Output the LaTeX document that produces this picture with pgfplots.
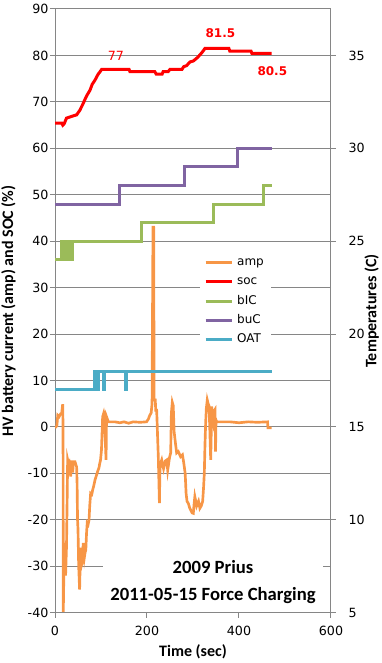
\documentclass[border=0pt]{standalone}
\usepackage{fontspec}
\setmainfont{Carlito}
\newfontfamily\dejavu{DejaVu Sans}
\usepackage{pgfplots}
\pgfplotsset{compat=1.18}
\definecolor{cAmp}{HTML}{F79646}
\definecolor{cSoc}{HTML}{FF0000}
\definecolor{cBIC}{HTML}{9BBB59}
\definecolor{cBUC}{HTML}{8064A2}
\definecolor{cOAT}{HTML}{4BACC6}
\definecolor{cGrid}{HTML}{868686}
\pgfplotsset{
  common/.style={
    at={(41.25bp,37.725bp)}, anchor=south west,
    scale only axis, width=207bp, height=452.775bp,
    xmin=0, xmax=600,
    axis line style={cGrid, line width=0.75bp, -},
    tick style={cGrid, line width=0.75bp},
    tick align=outside, major tick length=3.75bp,
    /pgf/number format/assume math mode=true,
    ticklabel style={font=\dejavu\fontsize{9.5bp}{11bp}\selectfont, text=black},
    label style={font=\bfseries\fontsize{12bp}{14bp}\selectfont},
  }
}
\begin{document}
\begin{tikzpicture}
\useasboundingbox (0,0) rectangle (286.5bp,497.25bp);
\begin{axis}[common,
  ymin=-40, ymax=90,
  xtick={0,200,400,600}, ytick={-40,-30,...,90},
  axis x line*=bottom, axis y line*=left,
  ymajorgrids, grid style={cGrid, line width=0.75bp},
  yticklabel style={inner sep=1bp},
  xticklabel style={yshift=-3bp},
  xlabel={Time (sec)},
  xlabel style={at={(axis description cs:0.5,-0.065)}, anchor=center},
  ylabel={HV battery current (amp) and SOC (\%)},
  ylabel style={at={(axis description cs:-0.169,0.5)}, anchor=center},
]
\addplot[cAmp, line width=2bp] coordinates {
(0,0) (2,0) (4,0.2) (6,2.5) (9,2.2) (12,2.8) (14.5,2.9) (16.7,4.9) (17.5,0) (18,-39.8) (19.5,-30) (20,-25) (22,-30) (23,-32) (25,-25.8) (26.5,-15) (27.5,-7.1) (29,-7.8) (31,-7.5) (33,-8.5) (34,-10.7) (36,-7.2) (38.5,-9.8) (40,-7.5) (43.5,-7.5) (45,-8) (47,-8.6) (48,-12) (49,-20) (50,-22) (51.5,-30) (53.5,-35) (55.5,-26) (57,-30) (58.7,-29.3) (60,-27) (61.6,-25) (64,-28) (65.5,-27) (67,-26.5) (68.5,-23) (70,-20.7) (72,-21) (74,-20) (75.5,-17) (77.5,-14.3) (80,-14.5) (82,-13.5) (84,-12.8) (87,-11.4) (90.5,-10.3) (93,-9.5) (95.6,-8.8) (97,-8) (99,-7.1) (101,-5) (103.6,2.2) (106,3) (108,2) (109,-2) (111,-7.1) (112,2.2) (116,1.1) (130,1.1) (141,0.9) (150,1.1) (160,0.8) (170,1.1) (185,1.0) (199,1.1) (203,1.7) (206,2.5) (209,3) (211,5) (213,43) (214.5,43) (215.5,5.8) (218,5.8) (219,3.6) (221,3.6) (222,1) (223,-2) (224.6,-6.4) (227,-16.4) (228,-10) (229,-8) (232,-7.1) (236,-9) (240,-7.3) (243,-7.1) (245,-9.3) (249,-6.6) (251.5,-5.6) (253,3) (255,5.3) (257,4.6) (259,-1) (261,-2.8) (264.5,-5.6) (268,-5.3) (273,-6.4) (277,-6) (280,-7.8) (283,-10) (285,-14.3) (287,-16) (290,-16.5) (293,-17.5) (295,-17.9) (298,-18.5) (300.7,-18.6) (302,-17) (304,-15) (306,-16) (308,-17) (310,-16.5) (312,-16) (314,-17) (315,-17.5) (318,-17) (321,-16) (323,-13) (324.6,-10) (326,-4) (327.5,0.8) (329,4) (331,5.8) (333,5) (335,4.5) (337,-2) (338.5,-7.1) (339.5,-2) (340.5,4.4) (342,3) (344,1.5) (346,3.5) (348,3.8) (349,-5.3) (350,1.5) (351.5,1.1) (380,1.1) (400,0.9) (420,1.1) (440,1.0) (462,1.1) (463,-0.2) (471,-0.2)
};
\addplot[cSoc, line width=2.25bp] coordinates {
(0,65.4) (15,65.4) (17,65) (20,65.3) (25,66.5) (34,66.8) (40,67) (47,67.2) (54,68.2) (61.5,69.7) (65,70.5) (70,71.5) (76,72.5) (81,73.8) (87,74.7) (94,76) (98,76.5) (101.5,77) (161,77) (163,76.5) (217,76.5) (220,76) (233,76) (235,76.5) (246,76.5) (250,77) (276,77) (280,77.6) (286,77.8) (293.5,78.6) (300.7,78.8) (308,79.4) (315,80.1) (320,80.7) (326,81.5) (378,81.5) (380,80.95) (426,80.95) (428,80.45) (471,80.45)
};
\node[text=cSoc, font=\dejavu\fontsize{9.5bp}{11bp}\selectfont] at (axis cs:132.6,79.9) {77};
\node[text=cSoc, font=\dejavu\bfseries\fontsize{9bp}{11bp}\selectfont] at (axis cs:359.5,84.8) {81.5};
\node[text=cSoc, font=\dejavu\bfseries\fontsize{9bp}{11bp}\selectfont] at (axis cs:472.5,76.6) {80.5};
\fill[white] (axis cs:104,-24.4) rectangle (axis cs:583,-39);
\node[font=\bfseries\fontsize{14bp}{16bp}\selectfont] at (axis cs:343.5,-30.1) {2009 Prius};
\node[font=\bfseries\fontsize{14bp}{16bp}\selectfont] at (axis cs:343.5,-36.2) {2011-05-15 Force Charging};
\end{axis}
\begin{axis}[common,
  ymin=5, ymax=37.5,
  ytick={5,10,...,35},
  axis x line=none, axis y line*=right,
  yticklabel style={xshift=6bp},
  ylabel={Temperatures (C)},
  ylabel style={at={(axis description cs:1.1475,0.5)}, anchor=center},
  legend style={at={(axis description cs:0.525,0.601)}, anchor=north west, draw=none, fill=white,
    font=\dejavu\fontsize{9bp}{10bp}\selectfont, row sep=0pt,
    nodes={text height=7bp, text depth=2.5bp, inner sep=2.5bp}},
  legend cell align=left,
  legend image code/.code={\draw[#1] (0bp,0bp) -- (20bp,0bp);},
]
\addlegendimage{cAmp, line width=2.25bp}\addlegendentry{amp}
\addlegendimage{cSoc, line width=2.25bp}\addlegendentry{soc}
\addlegendimage{cBIC, line width=2.25bp}\addlegendentry{bIC}
\addlegendimage{cBUC, line width=2.25bp}\addlegendentry{buC}
\addlegendimage{cOAT, line width=2.25bp}\addlegendentry{OAT}
\addplot[fill=cBIC, draw=cBIC, line width=2.25bp, forget plot] coordinates {
(14.5,24) (14.5,25) (38.5,25) (38.5,24)
} -- cycle;
\addplot[const plot, cBIC, line width=2.25bp, forget plot] coordinates {
(0,24) (14.5,25) (15.5,24) (16.5,25) (17.5,24) (18.5,25) (19.5,24) (20.5,25) (21.5,24) (22.5,25) (23.5,24) (24.5,25) (25.5,24) (26.5,25) (27.5,24) (28.5,25) (29.5,24) (30.5,25) (31.5,24) (32.5,25) (33.5,24) (34.5,25) (35.5,24) (36.5,25) (37.5,24) (38.5,25) (188.4,26) (344,27) (453,28) (471,28)
};
\addplot[const plot, cBUC, line width=2.25bp, forget plot] coordinates {
(0,27) (139.8,28) (281,29) (396,30) (471,30)
};
\addplot[const plot, cOAT, line width=2.25bp, forget plot] coordinates {
(0,17) (85.5,18) (87,17) (88.5,18) (90,17) (91.5,18) (93,17) (94.5,18) (96,18) (106.5,17) (108,18) (153.5,17) (155,18) (471,18)
};
\end{axis}
\end{tikzpicture}
\end{document}
